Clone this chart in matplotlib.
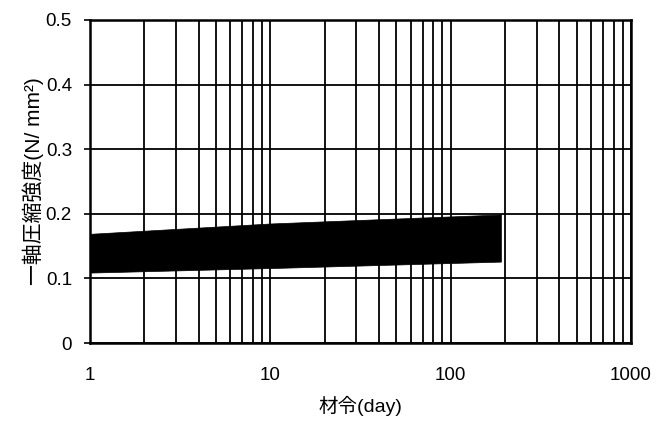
import matplotlib
matplotlib.use("Agg")
import matplotlib.pyplot as plt
from matplotlib.ticker import FixedLocator, LogLocator, NullFormatter

plt.rcParams['font.family'] = ['Liberation Sans', 'Noto Sans CJK JP', 'DejaVu Sans']

# band of uniaxial compressive strength vs age
days = [1, 10, 190]
upper = [0.169, 0.185, 0.199]
lower = [0.109, 0.116, 0.126]

y_ticks = [0, 0.1, 0.2, 0.3, 0.4, 0.5]
y_labels = ["0", "0.1", "0.2", "0.3", "0.4", "0.5"]
x_ticks = [1, 10, 100, 1000]
x_labels = ["1", "10", "100", "1000"]

fig = plt.figure(figsize=(6.56, 4.21), dpi=100)
ax = fig.add_axes([90 / 656, 1 - 343 / 421, 541 / 656, 323 / 421])

ax.fill_between(days, lower, upper, color="black", lw=0.5, zorder=3)

ax.set_xscale("log")
ax.set_xlim(1, 1000)
ax.set_ylim(0, 0.5)

ax.xaxis.set_major_locator(FixedLocator(x_ticks))
ax.set_xticklabels(x_labels)
ax.xaxis.set_minor_locator(LogLocator(base=10, subs=range(2, 10)))
ax.xaxis.set_minor_formatter(NullFormatter())
ax.set_yticks(y_ticks)
ax.set_yticklabels(y_labels)

ax.grid(True, which="both", axis="x", color="black", lw=1.3)
ax.grid(True, which="major", axis="y", color="black", lw=1.3)
ax.set_axisbelow(True)

for s in ax.spines.values():
    s.set_linewidth(1.8)

ax.tick_params(axis="y", length=4, width=1.2, pad=9, labelsize=13.5)
ax.tick_params(axis="x", which="both", length=0, pad=17, labelsize=13.5)

ax.set_xlabel("材令(day)", fontsize=14, labelpad=9)
ax.set_ylabel("一軸圧縮強度(N/ mm²)", fontsize=15, labelpad=1)

fig.savefig("out.png", dpi=100)
